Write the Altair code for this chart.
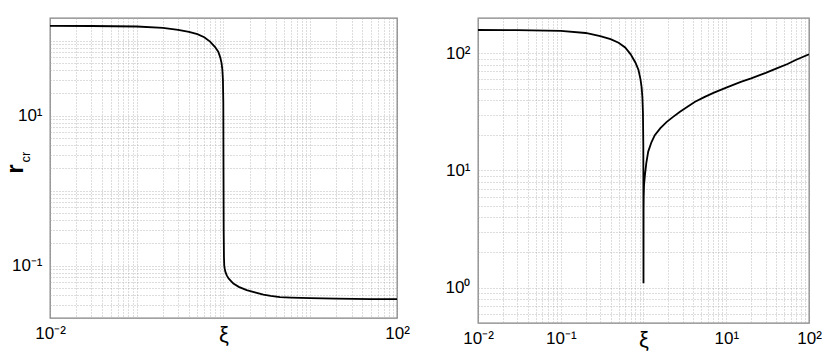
import altair as alt
import pandas as pd

FONT = "Liberation Sans"

# ---- data ----
left_xi = [0.01, 0.03, 0.1, 0.2, 0.3, 0.4, 0.5, 0.6, 0.7, 0.8, 0.87, 0.92,
           0.95, 0.97, 0.985, 0.995, 1.0, 1.005, 1.012, 1.02, 1.035, 1.05, 1.09, 1.15,
           1.3, 1.5, 1.85, 2.3, 2.88, 3.5, 4.48, 6, 10, 20, 50, 100]
left_r = [157, 156.5, 154, 148, 139, 131, 122, 111, 97, 82, 71, 59,
          50, 41, 30, 15, 2, 0.3, 0.13, 0.1, 0.09, 0.083, 0.074, 0.067,
          0.0575, 0.052, 0.047, 0.044, 0.041, 0.0395, 0.038, 0.0375, 0.0368, 0.0362, 0.0358, 0.0356]

right_xi = [0.01, 0.03, 0.1, 0.2, 0.3, 0.4, 0.5, 0.6, 0.7, 0.8, 0.87, 0.92,
            0.95, 0.97, 0.985, 0.995, 1.0, 1.002, 1.006, 1.015, 1.04, 1.08, 1.14, 1.25,
            1.37, 1.6, 1.91, 2.3, 2.76, 3.4, 4.2, 5.5, 7, 10, 15, 20,
            30, 40, 55, 70, 100]
right_r = [158, 157.5, 155, 149, 140, 132, 123, 112, 98, 83, 72, 60,
           51, 42, 31, 16, 1.09, 4.5, 6.0, 7.5, 9.1, 11.5, 14.5, 17.5,
           20, 23, 26, 28.8, 31.7, 35, 38.6, 42.5, 46, 51, 57, 61,
           68, 74, 81, 88, 98]

ylabel_main = ["r"]
ylabel_sub = ["cr"]
x_title = "ξ"

left_x_labels = "datum.value == 0.01 ? '10⁻²' : datum.value == 100 ? '10²' : ''"
right_x_labels = ("datum.value == 0.01 ? '10⁻²' : datum.value == 0.1 ? '10⁻¹' : "
                  "datum.value == 10 ? '10¹' : datum.value == 100 ? '10²' : ''")
left_y_labels = "datum.value == 0.1 ? '10⁻¹' : datum.value == 10 ? '10¹' : ''"
right_y_labels = ("datum.value == 1 ? '10⁰' : datum.value == 10 ? '10¹' : "
                  "datum.value == 100 ? '10²' : ''")


def grid_values(e_lo, e_hi, lo, hi):
    vals = []
    for e in range(e_lo, e_hi + 1):
        for k in range(1, 10):
            v = k * 10.0 ** e
            if lo * 0.999 <= v <= hi * 1.001:
                vals.append(v)
    return vals


x_grid = grid_values(-2, 2, 0.01, 100)
left_y_grid = grid_values(-2, 2, 0.02, 150)   # 200 lies on the frame itself
right_y_grid = grid_values(-1, 2, 0.5, 200)

common = dict(grid=True, gridColor="#a8a8a8", gridDash=[1, 2], gridWidth=0.8,
              ticks=False, domain=False, labelFont=FONT, labelFontSize=17,
              labelColor="black", labelOverlap=False, labelFlush=False)


def panel(xs, ys, x_labels, y_labels, y_grid, y_domain, w, h):
    df = pd.DataFrame({"xi": xs, "r": ys, "i": list(range(len(xs)))})
    xaxis = alt.Axis(values=x_grid, labelExpr=x_labels, labelPadding=7,
                     title=x_title, titleFont=FONT, titleFontSize=22,
                     titleFontWeight="normal", titleColor="black",
                     titleBaseline="top", titleY=6, **common)
    yaxis = alt.Axis(values=y_grid, labelExpr=y_labels, labelPadding=8,
                     title=None, **common)
    line = alt.Chart(df).mark_line(color="black", strokeWidth=1.8, clip=True).encode(
        x=alt.X("xi:Q", scale=alt.Scale(type="log", domain=[0.01, 100], nice=False), axis=xaxis),
        y=alt.Y("r:Q", scale=alt.Scale(type="log", domain=y_domain, nice=False), axis=yaxis),
        order="i:Q",
    )
    return line.properties(width=w, height=h)


left = panel(left_xi, left_r, left_x_labels, left_y_labels, left_y_grid, [0.02, 200], 347, 300)

t_main = alt.Chart(pd.DataFrame({"t": ylabel_main})).mark_text(
    angle=270, font=FONT, fontSize=24, fontWeight="bold", align="center",
    baseline="alphabetic", color="black").encode(text="t:N", x=alt.value(-27), y=alt.value(151))
t_sub = alt.Chart(pd.DataFrame({"t": ylabel_sub})).mark_text(
    angle=270, font=FONT, fontSize=13, align="center",
    baseline="alphabetic", color="black").encode(text="t:N", x=alt.value(-20), y=alt.value(139))
# transparent spacer: the left frame sits a little lower than the right one
spacer = alt.Chart(pd.DataFrame({"t": [""]})).mark_rule(opacity=0).encode(
    x=alt.value(0), x2=alt.value(1), y=alt.value(-2.5))

left = alt.vconcat(alt.layer(left, t_main, t_sub, spacer))

right = panel(right_xi, right_r, right_x_labels, right_y_labels, right_y_grid, [0.5, 200], 331, 305)

chart = alt.hconcat(left, right, spacing=34).configure_view(
    stroke="#808080", strokeWidth=1.3
).properties(background="white", padding={"left": -5, "top": 0, "right": 0, "bottom": 0})

chart.save("out.html", embed_options={"renderer": "svg", "actions": False})
